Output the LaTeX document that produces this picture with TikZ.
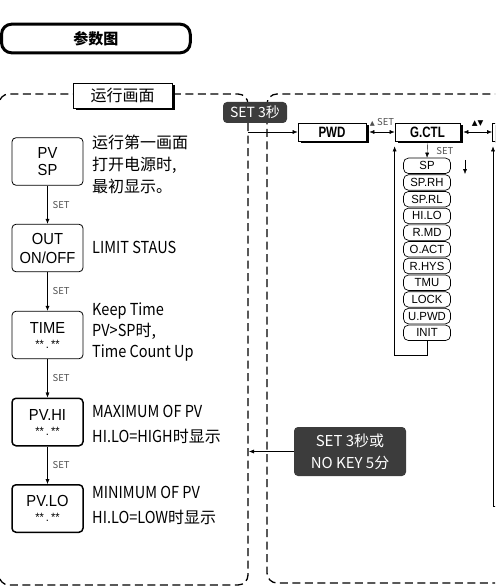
\documentclass[tikz,border=0pt]{standalone}
\usepackage{fontspec}
\setmainfont{Noto Sans CJK SC}
\newfontfamily\notelatin[FakeStretch=0.88]{Noto Sans CJK SC}
\newfontfamily\boxfont[FakeStretch=0.92]{Liberation Sans}
\newfontfamily\narrowfont[FakeStretch=0.77]{Liberation Sans}
\newfontfamily\itemfont[FakeStretch=0.96]{Liberation Sans}
\newfontfamily\symfont{DejaVu Sans}
\usetikzlibrary{arrows.meta, positioning, shadows, calc}
\definecolor{keygray}{HTML}{3C3C3C}
\definecolor{setgray}{HTML}{505050}
\newcommand{\lat}[1]{{\notelatin\fontsize{16.5}{16.5}\selectfont #1}}
\newcommand{\starrow}{{\boxfont\fontsize{12}{12}\selectfont **\hspace{2pt}.\hspace{2pt}**}}

\tikzset{
  dashpanel/.style={dash pattern=on 8pt off 4.5pt, line width=1.3pt, rounded corners=10pt},
  titlebar/.style={draw, line width=3pt, rounded corners=10pt, minimum width=188.7pt, minimum height=28.6pt, inner sep=0pt, font=\bfseries\fontsize{15}{15}\selectfont},
  headbox/.style={draw, fill=white, line width=0.8pt, minimum width=99pt, minimum height=25pt, inner sep=0pt,
    drop shadow={shadow xshift=2.5pt, shadow yshift=-2.5pt, fill=black, opacity=1}, font=\fontsize{16}{16}\selectfont},
  scrbox/.style={draw, rounded corners=4pt, line width=0.8pt, minimum width=71pt, minimum height=47.5pt, inner sep=0pt, align=center, font=\boxfont\fontsize{16}{17}\selectfont},
  thickscr/.style={scrbox, line width=1.5pt},
  note/.style={anchor=west, align=left, inner sep=0pt, font=\fontsize{16}{22}\selectfont},
  setlbl/.style={text=setgray, inner sep=0pt, font=\fontsize{9.5}{9.5}\selectfont},
  menubox/.style={draw, fill=white, line width=0.8pt, minimum height=18pt, inner sep=0pt,
    drop shadow={shadow xshift=2.5pt, shadow yshift=-2.5pt, fill=black, opacity=1}, font=\narrowfont\bfseries\fontsize{15}{15}\selectfont},
  itembox/.style={draw, fill=white, rounded corners=5pt, line width=0.7pt, minimum width=47pt, minimum height=15.5pt, inner sep=0pt, font=\itemfont\fontsize{11.8}{11.8}\selectfont},
  setkey/.style={fill=keygray, text=white, rounded corners=4pt, inner sep=0pt, align=center}
}

\begin{document}
\begin{tikzpicture}[x=1pt, y=-1pt, >={Latex[length=5pt,width=4pt]}]
    \useasboundingbox (0,0) rectangle (495,588);
    \clip (0,0) rectangle (495,588);

    % Title bar
    \node[titlebar] (title) at (95.9,38.5) {参数图};

    % Dashed panels
    \draw[dashpanel] (-1,94) rectangle (248,585);
    \draw[dashpanel] (267,94) rectangle (520,583);

    \node[headbox] (runhead) at (122.5,95.5) {运行画面};

    % Run screens
    \node[scrbox] (pvsp) at (47.5,161.5) {PV\\SP};
    \node[scrbox] (outsw) at (47.5,248) {OUT\\[2pt]ON/OFF};
    \node[scrbox] (timebox) at (47.5,335) {TIME\\[-2pt]\starrow};
    \node[thickscr] (pvhi) at (47.5,422) {PV.HI\\[-2pt]\starrow};
    \node[thickscr] (pvlo) at (47.5,508.5) {PV.LO\\[-2pt]\starrow};

    \draw[->] (pvsp) -- (outsw) node[setlbl, midway, right=5pt] {SET};
    \draw[->] (outsw) -- (timebox) node[setlbl, midway, right=5pt] {SET};
    \draw[->] (timebox) -- (pvhi) node[setlbl, midway, right=5pt] {SET};
    \draw[->] (pvhi) -- (pvlo) node[setlbl, midway, right=5pt] {SET};

    \node[note] (pvspnote) at (92,164) {运行第一画面\\打开电源时,\\最初显示。};
    \node[note] (outnote) at (92,247) {\lat{LIMIT STAUS}};
    \node[note, font=\fontsize{16}{21}\selectfont] (timenote) at (92,332) {\lat{Keep Time}\\\lat{PV>SP}时,\\\lat{Time Count Up}};
    \node[note, font=\fontsize{16}{25}\selectfont] (hinote) at (92,424.5) {\lat{MAXIMUM OF PV}\\\lat{HI.LO=HIGH}时显示};
    \node[note, font=\fontsize{16}{25}\selectfont] (lonote) at (92,505.5) {\lat{MINIMUM OF PV}\\\lat{HI.LO=LOW}时显示};

    % Parameter menus
    \node[setkey, minimum width=64pt, minimum height=21pt, font=\fontsize{14}{14}\selectfont] (hold) at (255,112.5) {SET 3秒};
    \coordinate (entry) at (248,132);
    \node[menubox, minimum width=68pt] (pwd) at (332,132) {PWD};
    \node[menubox, minimum width=65pt] (gctl) at (427.5,132) {G.CTL};
    \node[menubox, minimum width=68pt, anchor=west] (nextmenu) at (492,132) {};

    \draw[->] (entry) -- (pwd);
    \draw[<->] ([xshift=3pt]pwd.east) -- (gctl.west)
        node[midway, above=5pt, inner sep=0pt, text=setgray, font=\fontsize{9.5}{9.5}\selectfont] {{\symfont\fontsize{6.5}{6.5}\selectfont ▲} SET};
    \draw[<->] ([xshift=3pt]gctl.east) -- (nextmenu.west)
        node[midway, above=5pt, inner sep=0pt, font=\symfont\fontsize{7.5}{7.5}\selectfont] {▲▼};

    \foreach \lbl [count=\i] in {SP,SP.RH,SP.RL,HI.LO,R.MD,O.ACT,R.HYS,TMU,LOCK,U.PWD,INIT}
        \node[itembox] (item\i) at (427,{149.1+16.7*\i}) {\lbl};

    \draw[->] ([yshift=-2pt]gctl.south) -- (item1.north) node[setlbl, midway, right=9pt] {SET};
    \draw[->] (item11.south) -- ++(0,14) -| ([yshift=-5pt]gctl.south west);

    \coordinate (dnfrom) at (465,160);
    \coordinate (dnto) at (465,174);
    \draw[->] (dnfrom) -- (dnto);

    \coordinate (loopout) at (500,506);
    \draw[->] (loopout) -| ([xshift=1pt,yshift=-5pt]nextmenu.south west);

    % Back to run screens
    \node[setkey, minimum width=112pt, minimum height=49pt, font=\fontsize{15}{22}\selectfont] (quit) at (350,451.5) {SET 3秒或\\NO KEY 5分};
    \coordinate (back) at (249,451.5);
    \draw[->] (quit.west) -- (back);
\end{tikzpicture}
\end{document}
